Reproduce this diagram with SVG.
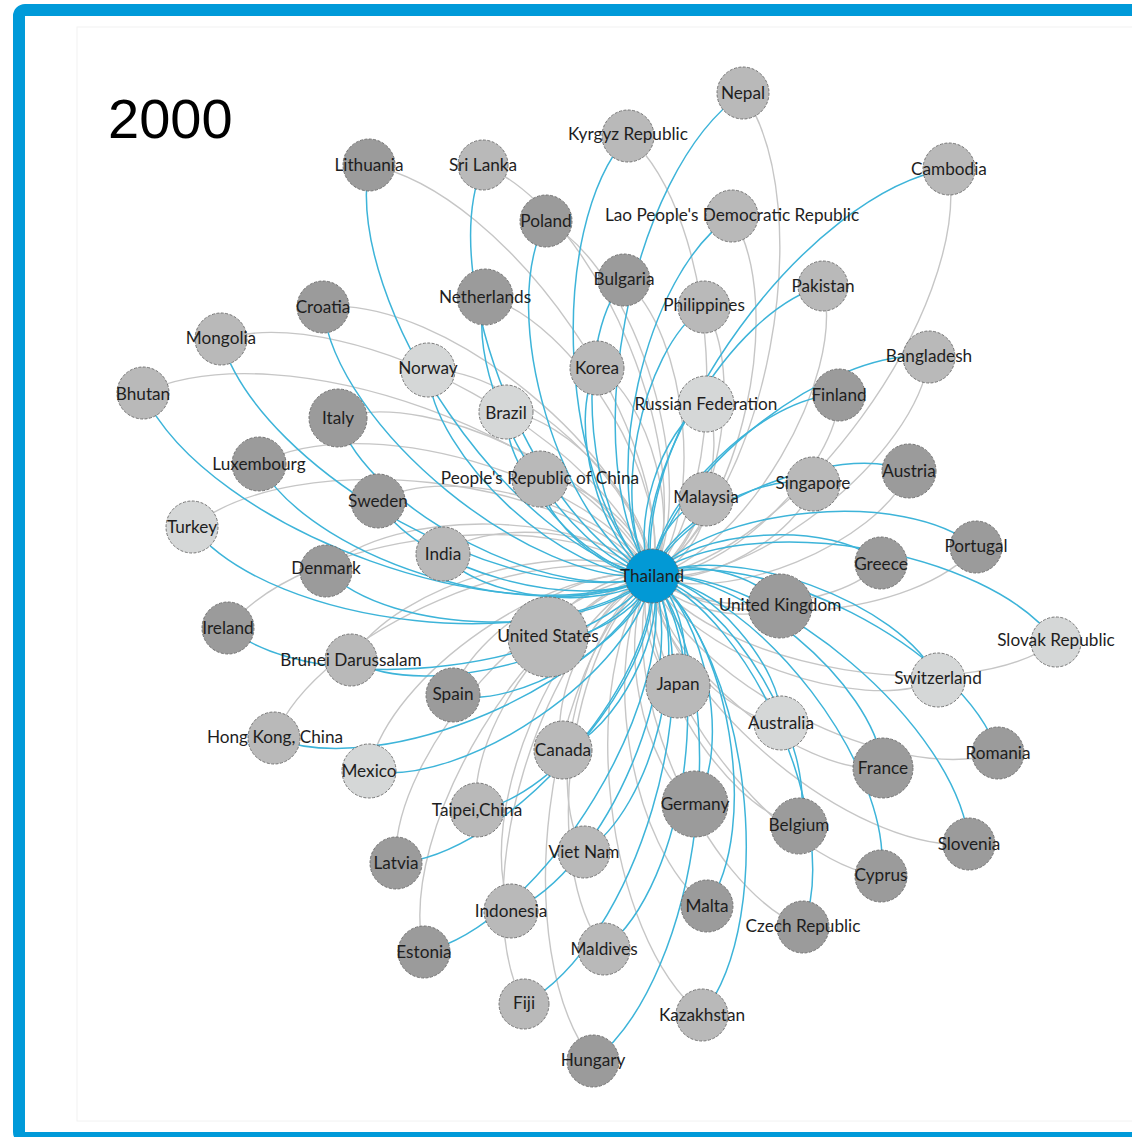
<svg xmlns="http://www.w3.org/2000/svg" width="1132" height="1137" viewBox="0 0 1132 1137">
<style>
.b{fill:none;stroke:#3db4d9;stroke-width:1.5}
.g{fill:none;stroke:#c6c6c6;stroke-width:1.4}
circle{stroke:#6a6a6a;stroke-width:0.9;stroke-dasharray:3 1.5}
.d{fill:#9b9b9b}
.m{fill:#b9b9b9}
.l{fill:#d5d7d7}
.t{fill:#0299d5}
text{font-family:"Lato","Liberation Sans",sans-serif;font-size:17.2px;fill:#1e1e1e;text-anchor:middle}
</style>
<rect x="0" y="0" width="1132" height="1137" fill="#ffffff"/>
<rect x="77" y="27" width="1060" height="1094" fill="#ffffff" stroke="#f2f2f2" stroke-width="1"/>
<rect x="19" y="10" width="1125" height="1128" rx="6" fill="none" stroke="#009ad9" stroke-width="12"/>
<text x="108" y="138" style="font-family:'Liberation Sans',Arial,sans-serif;font-size:56px;text-anchor:start;fill:#000">2000</text>
<g id="edges">
<path class="g" d="M743,93 C821.4,207.8 766.8,497.6 652,576"/>
<path class="g" d="M628,136 C720.8,219.2 735.2,483.2 652,576"/>
<path class="g" d="M483,165 C599,213.4 700.4,460 652,576"/>
<path class="g" d="M369,165 C507.8,190.6 677.6,437.2 652,576"/>
<path class="g" d="M546,221 C638.2,270.8 701.8,483.8 652,576"/>
<path class="g" d="M732,216 C788,304 740,520 652,576"/>
<path class="g" d="M949,169 C971,309.8 792.8,554 652,576"/>
<path class="g" d="M624,280 C688.8,333.6 705.6,511.2 652,576"/>
<path class="g" d="M704,307 C747.4,371.2 716.2,532.6 652,576"/>
<path class="g" d="M823,286 C846.8,378.2 744.2,552.2 652,576"/>
<path class="g" d="M485,297 C574.2,319.4 674.4,486.8 652,576"/>
<path class="g" d="M323,307 C442.6,295 640,456.4 652,576"/>
<path class="g" d="M221,339 C354.6,300.2 613.2,442.4 652,576"/>
<path class="g" d="M428,370 C514,366.4 648.4,490 652,576"/>
<path class="g" d="M143,393 C281.4,327.8 586.8,437.6 652,576"/>
<path class="g" d="M338,418 C432.4,386.8 620.8,481.6 652,576"/>
<path class="g" d="M259,464 C360,407.8 595.8,475 652,576"/>
<path class="g" d="M378,501 C447.8,461.2 612.2,506.2 652,576"/>
<path class="g" d="M192,527 C293.8,444.8 569.8,474.2 652,576"/>
<path class="g" d="M443,554 C489.2,516.6 614.6,529.8 652,576"/>
<path class="g" d="M326,570 C392.4,506 588,509.6 652,576"/>
<path class="g" d="M597,368 C649.6,398.6 682.6,523.4 652,576"/>
<path class="g" d="M506,412 C568,415.6 655.6,514 652,576"/>
<path class="g" d="M706,404 C729.6,449.2 697.2,552.4 652,576"/>
<path class="g" d="M839,395 C837.8,468.6 725.6,577.2 652,576"/>
<path class="g" d="M929,357 C917.4,456.2 751.2,587.6 652,576"/>
<path class="g" d="M540,479 C581.8,476 649,534.2 652,576"/>
<path class="g" d="M706,499 C710.6,525.2 678.2,571.4 652,576"/>
<path class="g" d="M813,484 C799.2,534.6 702.6,589.8 652,576"/>
<path class="g" d="M909,471 C878.6,543.4 724.4,606.4 652,576"/>
<path class="g" d="M976,547 C917,617.6 722.6,635 652,576"/>
<path class="g" d="M881,563 C837.8,611.4 700.4,619.2 652,576"/>
<path class="g" d="M780,606 C748.4,625.6 671.6,607.6 652,576"/>
<path class="g" d="M1056,642 C962,709.6 719.6,670 652,576"/>
<path class="g" d="M938,680 C860,716.4 688.4,654 652,576"/>
<path class="g" d="M548,637 C556.6,604 619,567.4 652,576"/>
<path class="g" d="M228,628 C302.4,532.8 556.8,501.6 652,576"/>
<path class="g" d="M351,660 C394.4,583 575,532.6 652,576"/>
<path class="g" d="M453,695 C469,631.4 588.4,560 652,576"/>
<path class="g" d="M274,738 C317.2,630 544,532.8 652,576"/>
<path class="g" d="M369,771 C386.6,675.4 556.4,558.4 652,576"/>
<path class="g" d="M563,750 C546,697.4 599.4,593 652,576"/>
<path class="g" d="M678,686 C650.8,669.2 635.2,603.2 652,576"/>
<path class="g" d="M781,723 C725.8,719.4 648.4,631.2 652,576"/>
<path class="g" d="M998,753 C893.4,786.8 685.8,680.6 652,576"/>
<path class="g" d="M883,768 C798.4,775.8 659.8,660.6 652,576"/>
<path class="g" d="M477,810 C465.2,728.2 570.2,587.8 652,576"/>
<path class="g" d="M695,804 C640.8,767 615,630.2 652,576"/>
<path class="g" d="M799,826 C719.6,805.4 631.4,655.4 652,576"/>
<path class="g" d="M969,844 C852,853.8 661.8,693 652,576"/>
<path class="g" d="M881,876 C775.2,861.8 637.8,681.8 652,576"/>
<path class="g" d="M396,863 C389.8,754.4 543.4,582.2 652,576"/>
<path class="g" d="M584,852 C542.4,783.2 583.2,617.6 652,576"/>
<path class="g" d="M707,906 C630,851 597,653 652,576"/>
<path class="g" d="M803,927 C702.6,887 612,676.4 652,576"/>
<path class="g" d="M511,911 C472.2,815.8 556.8,614.8 652,576"/>
<path class="g" d="M424,952 C394.4,831.2 531.2,605.6 652,576"/>
<path class="g" d="M604,949 C539,864.8 567.8,641 652,576"/>
<path class="g" d="M524,1004 C464,892.8 540.8,636 652,576"/>
<path class="g" d="M702,1015 C604.2,937.2 574.2,673.8 652,576"/>
<path class="g" d="M593,1061 C507.8,952.2 543.2,661.2 652,576"/>
<path class="b" d="M652,576 C573.6,461.2 628.2,171.4 743,93"/>
<path class="b" d="M652,576 C559.2,492.8 544.8,228.8 628,136"/>
<path class="b" d="M652,576 C536,527.6 434.6,281 483,165"/>
<path class="b" d="M652,576 C513.2,550.4 343.4,303.8 369,165"/>
<path class="b" d="M652,576 C559.8,526.2 496.2,313.2 546,221"/>
<path class="b" d="M652,576 C596,488 644,272 732,216"/>
<path class="b" d="M652,576 C630,435.2 808.2,191 949,169"/>
<path class="b" d="M652,576 C587.2,522.4 570.4,344.8 624,280"/>
<path class="b" d="M652,576 C608.6,511.8 639.8,350.4 704,307"/>
<path class="b" d="M652,576 C628.2,483.8 730.8,309.8 823,286"/>
<path class="b" d="M652,576 C562.8,553.6 462.6,386.2 485,297"/>
<path class="b" d="M652,576 C532.4,588 335,426.6 323,307"/>
<path class="b" d="M652,576 C518.4,614.8 259.8,472.6 221,339"/>
<path class="b" d="M652,576 C566,579.6 431.6,456 428,370"/>
<path class="b" d="M652,576 C513.6,641.2 208.2,531.4 143,393"/>
<path class="b" d="M652,576 C557.6,607.2 369.2,512.4 338,418"/>
<path class="b" d="M652,576 C551,632.2 315.2,565 259,464"/>
<path class="b" d="M652,576 C582.2,615.8 417.8,570.8 378,501"/>
<path class="b" d="M652,576 C550.2,658.2 274.2,628.8 192,527"/>
<path class="b" d="M652,576 C605.8,613.4 480.4,600.2 443,554"/>
<path class="b" d="M652,576 C585.6,640 390,636.4 326,570"/>
<path class="b" d="M652,576 C599.4,545.4 566.4,420.6 597,368"/>
<path class="b" d="M652,576 C590,572.4 502.4,474 506,412"/>
<path class="b" d="M652,576 C628.4,530.8 660.8,427.6 706,404"/>
<path class="b" d="M652,576 C653.2,502.4 765.4,393.8 839,395"/>
<path class="b" d="M652,576 C663.6,476.8 829.8,345.4 929,357"/>
<path class="b" d="M652,576 C610.2,579 543,520.8 540,479"/>
<path class="b" d="M652,576 C647.4,549.8 679.8,503.6 706,499"/>
<path class="b" d="M652,576 C665.8,525.4 762.4,470.2 813,484"/>
<path class="b" d="M652,576 C682.4,503.6 836.6,440.6 909,471"/>
<path class="b" d="M652,576 C711,505.4 905.4,488 976,547"/>
<path class="b" d="M652,576 C695.2,527.6 832.6,519.8 881,563"/>
<path class="b" d="M652,576 C683.6,556.4 760.4,574.4 780,606"/>
<path class="b" d="M652,576 C746,508.4 988.4,548 1056,642"/>
<path class="b" d="M652,576 C730,539.6 901.6,602 938,680"/>
<path class="b" d="M652,576 C643.4,609 581,645.6 548,637"/>
<path class="b" d="M652,576 C577.6,671.2 323.2,702.4 228,628"/>
<path class="b" d="M652,576 C608.6,653 428,703.4 351,660"/>
<path class="b" d="M652,576 C636,639.6 516.6,711 453,695"/>
<path class="b" d="M652,576 C608.8,684 382,781.2 274,738"/>
<path class="b" d="M652,576 C634.4,671.6 464.6,788.6 369,771"/>
<path class="b" d="M652,576 C669,628.6 615.6,733 563,750"/>
<path class="b" d="M652,576 C679.2,592.8 694.8,658.8 678,686"/>
<path class="b" d="M652,576 C707.2,579.6 784.6,667.8 781,723"/>
<path class="b" d="M652,576 C756.6,542.2 964.2,648.4 998,753"/>
<path class="b" d="M652,576 C736.6,568.2 875.2,683.4 883,768"/>
<path class="b" d="M652,576 C663.8,657.8 558.8,798.2 477,810"/>
<path class="b" d="M652,576 C706.2,613 732,749.8 695,804"/>
<path class="b" d="M652,576 C731.4,596.6 819.6,746.6 799,826"/>
<path class="b" d="M652,576 C769,566.2 959.2,727 969,844"/>
<path class="b" d="M652,576 C757.8,590.2 895.2,770.2 881,876"/>
<path class="b" d="M652,576 C658.2,684.6 504.6,856.8 396,863"/>
<path class="b" d="M652,576 C693.6,644.8 652.8,810.4 584,852"/>
<path class="b" d="M652,576 C729,631 762,829 707,906"/>
<path class="b" d="M652,576 C752.4,616 843,826.6 803,927"/>
<path class="b" d="M652,576 C690.8,671.2 606.2,872.2 511,911"/>
<path class="b" d="M652,576 C681.6,696.8 544.8,922.4 424,952"/>
<path class="b" d="M652,576 C717,660.2 688.2,884 604,949"/>
<path class="b" d="M652,576 C712,687.2 635.2,944 524,1004"/>
<path class="b" d="M652,576 C749.8,653.8 779.8,917.2 702,1015"/>
<path class="b" d="M652,576 C737.2,684.8 701.8,975.8 593,1061"/>
</g>
<g id="n-nepal"><circle class="m" cx="743" cy="93" r="26"/><text x="743" y="99">Nepal</text></g>
<g id="n-kyrgyz"><circle class="m" cx="628" cy="136" r="26"/><text x="628" y="140">Kyrgyz Republic</text></g>
<g id="n-srilanka"><circle class="m" cx="483" cy="165" r="25"/><text x="483" y="171">Sri Lanka</text></g>
<g id="n-lithuania"><circle class="d" cx="369" cy="165" r="26"/><text x="369" y="171">Lithuania</text></g>
<g id="n-cambodia"><circle class="m" cx="949" cy="169" r="26"/><text x="949" y="175">Cambodia</text></g>
<g id="n-poland"><circle class="d" cx="546" cy="221" r="26"/><text x="546" y="227">Poland</text></g>
<g id="n-lao"><circle class="m" cx="732" cy="216" r="26"/><text x="732" y="221">Lao People's Democratic Republic</text></g>
<g id="n-bulgaria"><circle class="d" cx="624" cy="280" r="26"/><text x="624" y="285">Bulgaria</text></g>
<g id="n-philippines"><circle class="m" cx="704" cy="307" r="26"/><text x="704" y="311">Philippines</text></g>
<g id="n-pakistan"><circle class="m" cx="823" cy="286" r="25"/><text x="823" y="292">Pakistan</text></g>
<g id="n-netherlands"><circle class="d" cx="485" cy="297" r="28"/><text x="485" y="303">Netherlands</text></g>
<g id="n-croatia"><circle class="d" cx="323" cy="307" r="26"/><text x="323" y="313">Croatia</text></g>
<g id="n-mongolia"><circle class="m" cx="221" cy="339" r="26"/><text x="221" y="344">Mongolia</text></g>
<g id="n-norway"><circle class="l" cx="428" cy="370" r="27"/><text x="428" y="374">Norway</text></g>
<g id="n-korea"><circle class="m" cx="597" cy="368" r="27"/><text x="597" y="374">Korea</text></g>
<g id="n-bangladesh"><circle class="m" cx="929" cy="357" r="26"/><text x="929" y="362">Bangladesh</text></g>
<g id="n-bhutan"><circle class="m" cx="143" cy="393" r="26"/><text x="143" y="400">Bhutan</text></g>
<g id="n-brazil"><circle class="l" cx="506" cy="412" r="27"/><text x="506" y="419">Brazil</text></g>
<g id="n-russia"><circle class="l" cx="706" cy="404" r="28"/><text x="706" y="410">Russian Federation</text></g>
<g id="n-finland"><circle class="d" cx="839" cy="395" r="26"/><text x="839" y="401">Finland</text></g>
<g id="n-italy"><circle class="d" cx="338" cy="418" r="29"/><text x="338" y="424">Italy</text></g>
<g id="n-luxembourg"><circle class="d" cx="259" cy="464" r="27"/><text x="259" y="470">Luxembourg</text></g>
<g id="n-prc"><circle class="m" cx="540" cy="479" r="28"/><text x="540" y="484">People's Republic of China</text></g>
<g id="n-sweden"><circle class="d" cx="378" cy="501" r="27"/><text x="378" y="507">Sweden</text></g>
<g id="n-malaysia"><circle class="m" cx="706" cy="499" r="27"/><text x="706" y="503">Malaysia</text></g>
<g id="n-singapore"><circle class="m" cx="813" cy="484" r="27"/><text x="813" y="489">Singapore</text></g>
<g id="n-austria"><circle class="d" cx="909" cy="471" r="27"/><text x="909" y="477">Austria</text></g>
<g id="n-turkey"><circle class="l" cx="192" cy="527" r="26"/><text x="192" y="533">Turkey</text></g>
<g id="n-india"><circle class="m" cx="443" cy="554" r="27"/><text x="443" y="560">India</text></g>
<g id="n-denmark"><circle class="d" cx="326" cy="571" r="26"/><text x="326" y="574">Denmark</text></g>
<g id="n-portugal"><circle class="d" cx="976" cy="547" r="26"/><text x="976" y="552">Portugal</text></g>
<g id="n-greece"><circle class="d" cx="881" cy="563" r="26"/><text x="881" y="570">Greece</text></g>
<g id="n-uk"><circle class="d" cx="780" cy="606" r="32"/><text x="780" y="611">United Kingdom</text></g>
<g id="n-thailand"><circle class="t" cx="652" cy="576" r="27"/><text x="652" y="582">Thailand</text></g>
<g id="n-ireland"><circle class="d" cx="228" cy="628" r="26"/><text x="228" y="634">Ireland</text></g>
<g id="n-us"><circle class="m" cx="548" cy="637" r="40"/><text x="548" y="642">United States</text></g>
<g id="n-slovak"><circle class="l" cx="1056" cy="642" r="25"/><text x="1056" y="646">Slovak Republic</text></g>
<g id="n-brunei"><circle class="m" cx="351" cy="660" r="26"/><text x="351" y="666">Brunei Darussalam</text></g>
<g id="n-spain"><circle class="d" cx="453" cy="695" r="27"/><text x="453" y="700">Spain</text></g>
<g id="n-switzerland"><circle class="l" cx="938" cy="680" r="27"/><text x="938" y="684">Switzerland</text></g>
<g id="n-japan"><circle class="m" cx="678" cy="686" r="32"/><text x="678" y="690">Japan</text></g>
<g id="n-hongkong"><circle class="m" cx="274" cy="738" r="26"/><text x="275" y="743">Hong Kong, China</text></g>
<g id="n-australia"><circle class="l" cx="781" cy="723" r="27"/><text x="781" y="729">Australia</text></g>
<g id="n-mexico"><circle class="l" cx="369" cy="771" r="27"/><text x="369" y="777">Mexico</text></g>
<g id="n-canada"><circle class="m" cx="563" cy="750" r="29"/><text x="563" y="756">Canada</text></g>
<g id="n-romania"><circle class="d" cx="998" cy="753" r="26"/><text x="998" y="759">Romania</text></g>
<g id="n-france"><circle class="d" cx="883" cy="768" r="30"/><text x="883" y="774">France</text></g>
<g id="n-germany"><circle class="d" cx="695" cy="804" r="33"/><text x="695" y="810">Germany</text></g>
<g id="n-taipei"><circle class="m" cx="477" cy="810" r="27"/><text x="477" y="816">Taipei,China</text></g>
<g id="n-belgium"><circle class="d" cx="799" cy="826" r="28"/><text x="799" y="831">Belgium</text></g>
<g id="n-slovenia"><circle class="d" cx="969" cy="844" r="26"/><text x="969" y="850">Slovenia</text></g>
<g id="n-latvia"><circle class="d" cx="396" cy="863" r="26"/><text x="396" y="869">Latvia</text></g>
<g id="n-vietnam"><circle class="m" cx="584" cy="852" r="26"/><text x="584" y="858">Viet Nam</text></g>
<g id="n-cyprus"><circle class="d" cx="881" cy="876" r="26"/><text x="881" y="881">Cyprus</text></g>
<g id="n-malta"><circle class="d" cx="707" cy="906" r="26"/><text x="707" y="912">Malta</text></g>
<g id="n-indonesia"><circle class="m" cx="511" cy="911" r="27"/><text x="511" y="917">Indonesia</text></g>
<g id="n-czech"><circle class="d" cx="803" cy="927" r="26"/><text x="803" y="932">Czech Republic</text></g>
<g id="n-estonia"><circle class="d" cx="424" cy="952" r="26"/><text x="424" y="958">Estonia</text></g>
<g id="n-maldives"><circle class="m" cx="604" cy="949" r="26"/><text x="604" y="955">Maldives</text></g>
<g id="n-fiji"><circle class="m" cx="524" cy="1004" r="25"/><text x="524" y="1009">Fiji</text></g>
<g id="n-kazakhstan"><circle class="m" cx="702" cy="1015" r="26"/><text x="702" y="1021">Kazakhstan</text></g>
<g id="n-hungary"><circle class="d" cx="593" cy="1061" r="26"/><text x="593" y="1066">Hungary</text></g>
</svg>
